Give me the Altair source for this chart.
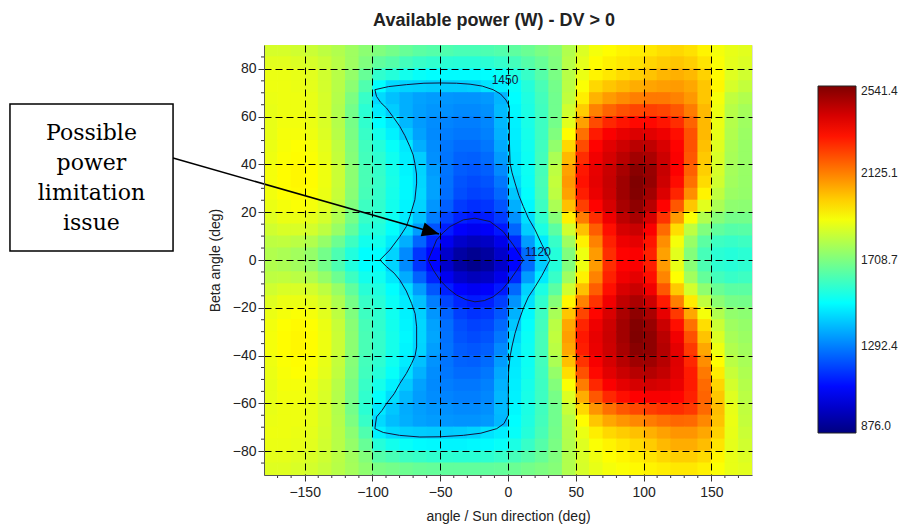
import altair as alt
import pandas as pd

TITLE = "Available power (W) - DV > 0"
X_TITLE = "angle / Sun direction (deg)"
Y_TITLE = "Beta angle (deg)"

# centres of the power-map cells: 10 deg wide in Sun angle, 5 deg tall in beta
sun_angle = [-175, -165, -155, -145, -135, -125, -115, -105, -95, -85, -75, -65,
             -55, -45, -35, -25, -15, -5, 5, 15, 25, 35, 45, 55,
             65, 75, 85, 95, 105, 115, 125, 135, 145, 155, 165, 175]
beta_angle = [87.5, 82.5, 77.5, 72.5, 67.5, 62.5, 57.5, 52.5, 47.5, 42.5, 37.5, 32.5,
              27.5, 22.5, 17.5, 12.5, 7.5, 2.5, -2.5, -7.5, -12.5, -17.5, -22.5, -27.5,
              -32.5, -37.5, -42.5, -47.5, -52.5, -57.5, -62.5, -67.5, -72.5, -77.5, -82.5, -87.5]

# available power (W), one row per beta angle (top to bottom), one column per Sun angle
power_w = [
    [1850, 1850, 1840, 1830, 1810, 1790, 1760, 1730, 1710, 1690, 1670, 1650, 1640, 1630, 1620, 1620, 1625, 1635, 1655, 1675, 1700, 1720, 1790, 1860, 1900, 1920, 1935, 1945, 1955, 1970, 1980, 1965, 1935, 1900, 1880, 1870],
    [1870, 1870, 1860, 1850, 1830, 1800, 1760, 1710, 1660, 1640, 1610, 1590, 1580, 1570, 1565, 1565, 1570, 1585, 1610, 1640, 1670, 1710, 1800, 1875, 1920, 1940, 1955, 1965, 1985, 2000, 2010, 1995, 1960, 1910, 1875, 1860],
    [1885, 1885, 1880, 1870, 1840, 1800, 1745, 1670, 1580, 1560, 1530, 1510, 1500, 1495, 1495, 1495, 1500, 1515, 1550, 1590, 1640, 1700, 1800, 1885, 1935, 1955, 1975, 1995, 2015, 2035, 2045, 2030, 1990, 1925, 1865, 1840],
    [1890, 1890, 1885, 1875, 1845, 1800, 1730, 1630, 1500, 1440, 1430, 1425, 1420, 1420, 1420, 1425, 1455, 1475, 1510, 1560, 1620, 1690, 1805, 1910, 1980, 2010, 2030, 2050, 2065, 2075, 2080, 2060, 2010, 1930, 1850, 1820],
    [1885, 1890, 1890, 1880, 1850, 1795, 1705, 1590, 1440, 1400, 1370, 1350, 1340, 1330, 1325, 1325, 1335, 1380, 1500, 1550, 1610, 1685, 1815, 1945, 2040, 2080, 2105, 2125, 2135, 2135, 2120, 2085, 2010, 1900, 1815, 1790],
    [1880, 1890, 1890, 1880, 1850, 1790, 1690, 1570, 1470, 1420, 1370, 1345, 1330, 1320, 1310, 1310, 1320, 1390, 1490, 1545, 1605, 1685, 1840, 2000, 2120, 2170, 2200, 2220, 2230, 2220, 2190, 2130, 2030, 1890, 1800, 1770],
    [1880, 1895, 1895, 1885, 1855, 1795, 1695, 1580, 1500, 1460, 1385, 1340, 1315, 1300, 1290, 1290, 1305, 1385, 1480, 1540, 1600, 1690, 1870, 2070, 2210, 2270, 2300, 2320, 2320, 2300, 2260, 2170, 2030, 1885, 1795, 1760],
    [1880, 1900, 1900, 1890, 1860, 1800, 1700, 1590, 1530, 1480, 1420, 1350, 1310, 1290, 1280, 1280, 1295, 1375, 1475, 1535, 1600, 1710, 1920, 2150, 2290, 2340, 2370, 2390, 2380, 2360, 2310, 2200, 2030, 1880, 1790, 1755],
    [1885, 1905, 1915, 1905, 1875, 1815, 1715, 1605, 1560, 1510, 1465, 1370, 1315, 1280, 1260, 1260, 1280, 1360, 1470, 1525, 1605, 1740, 1980, 2210, 2330, 2380, 2415, 2445, 2435, 2395, 2330, 2200, 2020, 1865, 1780, 1750],
    [1890, 1910, 1920, 1910, 1880, 1820, 1720, 1610, 1575, 1525, 1475, 1420, 1320, 1275, 1245, 1240, 1260, 1340, 1465, 1520, 1610, 1780, 2030, 2260, 2355, 2400, 2445, 2485, 2470, 2415, 2340, 2190, 2005, 1855, 1775, 1750],
    [1900, 1920, 1930, 1920, 1890, 1830, 1730, 1620, 1585, 1535, 1485, 1430, 1340, 1275, 1235, 1225, 1240, 1310, 1460, 1520, 1615, 1810, 2070, 2295, 2370, 2420, 2475, 2525, 2500, 2425, 2335, 2175, 1995, 1850, 1770, 1750],
    [1900, 1920, 1930, 1920, 1890, 1830, 1730, 1620, 1590, 1540, 1490, 1435, 1350, 1270, 1220, 1205, 1220, 1280, 1445, 1515, 1620, 1820, 2085, 2305, 2375, 2425, 2490, 2540, 2505, 2415, 2315, 2150, 1975, 1840, 1765, 1748],
    [1895, 1915, 1925, 1915, 1885, 1825, 1725, 1615, 1585, 1535, 1490, 1440, 1350, 1265, 1210, 1190, 1200, 1255, 1410, 1505, 1615, 1810, 2070, 2285, 2365, 2420, 2490, 2535, 2485, 2390, 2275, 2100, 1935, 1815, 1755, 1745],
    [1885, 1900, 1910, 1900, 1870, 1810, 1710, 1600, 1580, 1530, 1485, 1430, 1330, 1240, 1180, 1160, 1170, 1220, 1370, 1490, 1600, 1780, 2020, 2230, 2330, 2400, 2475, 2515, 2450, 2330, 2190, 2010, 1870, 1780, 1735, 1730],
    [1865, 1885, 1885, 1875, 1845, 1785, 1695, 1590, 1570, 1520, 1470, 1400, 1290, 1190, 1140, 1120, 1130, 1180, 1320, 1450, 1580, 1720, 1940, 2130, 2260, 2360, 2440, 2475, 2400, 2250, 2080, 1910, 1790, 1720, 1690, 1690],
    [1840, 1855, 1855, 1845, 1810, 1750, 1660, 1565, 1555, 1505, 1440, 1340, 1220, 1130, 1080, 1060, 1075, 1120, 1250, 1420, 1545, 1650, 1840, 2020, 2180, 2310, 2400, 2420, 2340, 2160, 1970, 1810, 1710, 1660, 1640, 1645],
    [1810, 1815, 1805, 1790, 1745, 1680, 1600, 1530, 1530, 1470, 1370, 1250, 1140, 1060, 1000, 975, 990, 1050, 1150, 1340, 1470, 1590, 1760, 1940, 2120, 2280, 2360, 2375, 2300, 2100, 1900, 1750, 1650, 1600, 1590, 1600],
    [1790, 1780, 1765, 1745, 1690, 1625, 1555, 1500, 1500, 1430, 1310, 1170, 1090, 1000, 935, 905, 930, 1000, 1090, 1260, 1420, 1560, 1710, 1890, 2080, 2260, 2330, 2340, 2280, 2070, 1870, 1715, 1615, 1570, 1560, 1570],
    [1790, 1780, 1765, 1745, 1690, 1625, 1555, 1500, 1500, 1430, 1310, 1170, 1090, 1000, 930, 900, 925, 1000, 1090, 1260, 1420, 1560, 1710, 1890, 2080, 2260, 2330, 2340, 2285, 2080, 1880, 1725, 1625, 1575, 1565, 1575],
    [1810, 1815, 1805, 1790, 1745, 1680, 1600, 1530, 1525, 1465, 1365, 1245, 1140, 1060, 1000, 975, 990, 1050, 1150, 1340, 1470, 1590, 1760, 1940, 2120, 2280, 2355, 2375, 2310, 2115, 1915, 1765, 1665, 1610, 1590, 1600],
    [1840, 1855, 1855, 1845, 1810, 1750, 1660, 1565, 1550, 1500, 1445, 1340, 1225, 1135, 1085, 1065, 1080, 1125, 1255, 1425, 1545, 1650, 1840, 2020, 2180, 2310, 2395, 2420, 2355, 2190, 2005, 1845, 1735, 1675, 1650, 1650],
    [1865, 1885, 1885, 1875, 1845, 1785, 1695, 1590, 1565, 1515, 1470, 1400, 1290, 1195, 1145, 1125, 1135, 1185, 1325, 1455, 1580, 1720, 1930, 2120, 2250, 2355, 2435, 2470, 2415, 2290, 2125, 1950, 1815, 1730, 1695, 1690],
    [1885, 1900, 1910, 1900, 1870, 1810, 1710, 1600, 1575, 1525, 1480, 1425, 1330, 1245, 1185, 1165, 1175, 1225, 1375, 1490, 1600, 1775, 2010, 2220, 2325, 2395, 2470, 2515, 2470, 2370, 2240, 2060, 1900, 1790, 1740, 1730],
    [1895, 1915, 1925, 1915, 1885, 1825, 1725, 1615, 1580, 1530, 1485, 1435, 1350, 1265, 1210, 1190, 1200, 1255, 1410, 1505, 1610, 1805, 2060, 2275, 2360, 2415, 2485, 2535, 2500, 2420, 2310, 2150, 1970, 1830, 1760, 1745],
    [1900, 1920, 1930, 1920, 1890, 1830, 1730, 1620, 1585, 1535, 1490, 1435, 1355, 1270, 1220, 1205, 1220, 1280, 1440, 1515, 1615, 1815, 2075, 2295, 2370, 2420, 2485, 2540, 2515, 2445, 2355, 2200, 2015, 1860, 1775, 1755],
    [1900, 1920, 1930, 1920, 1890, 1830, 1730, 1620, 1585, 1535, 1485, 1430, 1345, 1275, 1235, 1225, 1240, 1310, 1460, 1520, 1615, 1805, 2060, 2285, 2365, 2415, 2475, 2525, 2515, 2455, 2375, 2240, 2060, 1890, 1790, 1765],
    [1890, 1910, 1920, 1910, 1880, 1820, 1720, 1610, 1575, 1525, 1470, 1400, 1325, 1275, 1245, 1240, 1260, 1340, 1465, 1520, 1610, 1780, 2020, 2250, 2345, 2400, 2450, 2490, 2490, 2450, 2385, 2270, 2100, 1920, 1805, 1775],
    [1885, 1905, 1915, 1905, 1875, 1815, 1715, 1605, 1560, 1510, 1450, 1375, 1315, 1280, 1260, 1260, 1280, 1360, 1470, 1525, 1605, 1745, 1970, 2200, 2320, 2380, 2420, 2450, 2455, 2430, 2380, 2290, 2135, 1950, 1825, 1785],
    [1880, 1900, 1900, 1890, 1860, 1800, 1700, 1590, 1535, 1480, 1415, 1350, 1310, 1290, 1280, 1280, 1295, 1375, 1475, 1535, 1600, 1715, 1910, 2130, 2270, 2340, 2375, 2400, 2405, 2395, 2365, 2290, 2160, 1985, 1845, 1795],
    [1880, 1895, 1895, 1885, 1855, 1795, 1695, 1580, 1505, 1445, 1385, 1340, 1315, 1300, 1290, 1290, 1305, 1385, 1480, 1540, 1600, 1695, 1860, 2050, 2190, 2270, 2310, 2335, 2345, 2345, 2330, 2280, 2170, 2010, 1865, 1805],
    [1880, 1890, 1890, 1880, 1850, 1790, 1690, 1570, 1465, 1410, 1365, 1345, 1330, 1320, 1310, 1310, 1320, 1390, 1490, 1545, 1605, 1685, 1825, 1980, 2090, 2150, 2190, 2215, 2235, 2250, 2260, 2240, 2160, 2025, 1880, 1815],
    [1885, 1890, 1890, 1880, 1850, 1795, 1705, 1590, 1440, 1395, 1370, 1350, 1340, 1330, 1325, 1325, 1335, 1385, 1500, 1550, 1610, 1685, 1800, 1920, 2010, 2060, 2090, 2110, 2130, 2150, 2165, 2160, 2110, 2015, 1885, 1820],
    [1890, 1890, 1885, 1875, 1845, 1800, 1730, 1630, 1480, 1440, 1425, 1420, 1415, 1415, 1420, 1430, 1455, 1475, 1510, 1560, 1620, 1690, 1795, 1885, 1945, 1980, 2000, 2020, 2045, 2070, 2090, 2090, 2060, 1990, 1880, 1830],
    [1885, 1885, 1880, 1870, 1840, 1800, 1745, 1670, 1560, 1530, 1510, 1495, 1490, 1485, 1485, 1490, 1495, 1510, 1545, 1590, 1640, 1700, 1790, 1865, 1910, 1935, 1955, 1975, 2000, 2030, 2050, 2050, 2025, 1960, 1875, 1840],
    [1875, 1875, 1865, 1855, 1835, 1805, 1765, 1715, 1640, 1620, 1600, 1590, 1580, 1575, 1570, 1570, 1575, 1590, 1615, 1640, 1670, 1710, 1790, 1855, 1890, 1915, 1930, 1945, 1960, 1980, 1995, 1995, 1975, 1930, 1880, 1860],
    [1865, 1865, 1855, 1845, 1825, 1800, 1770, 1735, 1700, 1690, 1680, 1670, 1665, 1660, 1660, 1660, 1660, 1665, 1675, 1690, 1705, 1720, 1790, 1850, 1880, 1900, 1910, 1925, 1935, 1945, 1955, 1955, 1940, 1910, 1880, 1870],
]
CELL_W, CELL_H = 10, 5

# iso-power contours (deg)
c1450_x = [-98.2, -88, -75, -62, -50, -38, -28, -19, -11, -5.5, -1.5, 1, 1, 1.5, 3, 5.2, 8, 11.3, 15, 20, 25, 31,
           25, 20, 15, 11.3, 8, 5.2, 3, 1.5, 0.5, 0.2, 0.2, -3, -8.3, -20, -33, -50, -65, -80, -92, -98.2,
           -97, -93, -89.6, -84, -79.8, -75, -71.1, -68.5, -67.4, -67.4, -68.5, -71.1, -75, -79.8, -84, -89.6, -94.5,
           -87.2, -79.8, -75, -72.4, -68.7, -67.4, -67.5, -68.7, -70, -72.4, -76, -79.8, -84.5, -89.6, -94, -97, -98.2]
c1450_y = [71.3, 72.6, 73.4, 74, 74.1, 74, 73.6, 72.8, 71.3, 69.5, 67, 64.3, 50.6, 40.5, 36.5, 32.2, 27, 22.4, 17.5, 12.6, 6.5, 0,
           -6.5, -11.2, -15.5, -20.3, -25.5, -30.7, -36, -40.5, -46, -51.7, -65, -68.5, -70.6, -72.5, -73.4, -74, -74.1, -73.4, -72.2, -70.6,
           -65.7, -63, -60.1, -56, -51.7, -47.5, -43.3, -40, -36.4, -28, -22.5, -18.2, -13, -8.4, -5.5, -2.8, 0,
           4.2, 9.8, 14, 18.2, 25.2, 32.2, 36, 40.5, 44, 47.5, 52, 55.9, 59.7, 63.6, 66, 68.5, 71.3]
c1120_x = [-58.9, -55.5, -52.7, -47.5, -42.8, -33, -24.4, -13.3, -3.5, 3.9, 11.3,
           6.5, 1.5, -4.5, -10.9, -17.5, -24.4, -31, -37.9, -44.5, -50.2, -55, -58.9]
c1120_y = [0, 4.5, 8.4, 11.6, 14, 16.8, 17.5, 16.1, 11.9, 6.3, 0,
           -4.3, -8.4, -12.5, -15.4, -17, -17.5, -16.6, -14.7, -11.8, -8.4, -4.3, 0]

contour_labels = ["1450", "1120"]
contour_label_x = [-2.2, 22.1]
contour_label_y = [75.2, 3.4]

# callout: box corners, text anchor and arrow ends in plot units
note_lines = ["Possible", "power", "limitation", "issue"]
note_box_x = [-367.4, -247.1]
note_box_y = [3.8, 65.3]
note_text_x = -307.3
note_text_y = 50.2
arrow_tail = (-247.1, 42.7)
arrow_tip = (-50.9, 10.9)

# colour bar
P_MIN, P_MAX = 876.0, 2541.4
bar_ticks = [876.0, 1292.4, 1708.7, 2125.1, 2541.4]
jet = ["#00007f", "#0000ff", "#007fff", "#00ffff", "#7fff7f",
       "#ffff00", "#ff7f00", "#ff0000", "#7f0000"]
jet_stops = [P_MIN + i * (P_MAX - P_MIN) / (len(jet) - 1) for i in range(len(jet))]

x_major = [-150, -100, -50, 0, 50, 100, 150]
y_major = [-80, -60, -40, -20, 0, 20, 40, 60, 80]
x_minor = [v for v in range(-170, 180, 10) if v % 50 != 0]
y_minor = [v for v in range(-85, 90, 5) if v % 20 != 0]

W, H = 488, 430
FONT = "Liberation Sans"

# cells overlap their neighbours slightly so no hairline seams show between them
OVER = 0.25
cells = pd.DataFrame([
    {"s0": s - CELL_W / 2 - OVER, "s1": s + CELL_W / 2 + OVER,
     "b0": b - CELL_H / 2 - OVER, "b1": b + CELL_H / 2 + OVER, "power": p}
    for b, row in zip(beta_angle, power_w)
    for s, p in zip(sun_angle, row)
])

lines = pd.concat([
    pd.DataFrame({"x": c1450_x, "y": c1450_y, "level": "1450", "i": range(len(c1450_x))}),
    pd.DataFrame({"x": c1120_x, "y": c1120_y, "level": "1120", "i": range(len(c1120_x))}),
])

xs = alt.Scale(domain=[-180, 180], nice=False, zero=False)
ys = alt.Scale(domain=[-90, 90], nice=False, zero=False)
cs = alt.Scale(domain=jet_stops, range=jet, interpolate="rgb")

grid_style = dict(grid=True, gridColor="#000000", gridDash=[7, 4], gridWidth=1, gridOpacity=1,
                  tickColor="#333333", tickSize=6, domainColor="#555555", zindex=1,
                  labelFont=FONT, labelFontSize=14, labelColor="#222222",
                  titleFont=FONT, titleFontSize=14, titleFontWeight="normal", titleColor="#222222")

x_axis = alt.Axis(values=x_major, labelPadding=4, titlePadding=10, **grid_style)
y_axis = alt.Axis(values=y_major, labelPadding=2, titlePadding=10, **grid_style)

heat = alt.Chart(cells).mark_rect(clip=True).encode(
    x=alt.X("s0:Q", scale=xs, axis=x_axis, title=X_TITLE),
    x2="s1:Q",
    y=alt.Y("b0:Q", scale=ys, axis=y_axis, title=Y_TITLE),
    y2="b1:Q",
    color=alt.Color("power:Q", scale=cs, title=None,
                    legend=alt.Legend(type="gradient", orient="none", legendX=554, legendY=41,
                                      direction="vertical",
                                      gradientLength=347, gradientThickness=38,
                                      gradientStrokeColor="#222222", gradientStrokeWidth=1,
                                      values=bar_ticks, labelExpr="format(datum.value, '.1f')",
                                      labelFont=FONT, labelFontSize=12, labelColor="#222222",
                                      labelOffset=5, padding=0)),
)

contours = alt.Chart(lines).mark_line(color="#14143c", strokeWidth=1).encode(
    x=alt.X("x:Q", scale=xs),
    y=alt.Y("y:Q", scale=ys),
    detail="level:N",
    order=alt.Order("i:Q"),
)

labels = alt.Chart(pd.DataFrame({"t": contour_labels, "x": contour_label_x, "y": contour_label_y})).mark_text(
    font=FONT, fontSize=12, color="#14143c"
).encode(x=alt.X("x:Q", scale=xs), y=alt.Y("y:Q", scale=ys), text="t:N")

x_ticks = alt.Chart(pd.DataFrame({"v": x_minor})).mark_rule(color="#333333").encode(
    x=alt.X("v:Q", scale=xs), y=alt.value(H), y2=alt.value(H + 3))
y_ticks = alt.Chart(pd.DataFrame({"v": y_minor})).mark_rule(color="#333333").encode(
    y=alt.Y("v:Q", scale=ys), x=alt.value(0), x2=alt.value(-3))

box = alt.Chart(pd.DataFrame({"x0": [note_box_x[0]], "x1": [note_box_x[1]],
                              "y0": [note_box_y[0]], "y1": [note_box_y[1]]})).mark_rect(
    fill="white", stroke="black", strokeWidth=1.5, clip=False
).encode(x=alt.X("x0:Q", scale=xs), x2="x1:Q", y=alt.Y("y0:Q", scale=ys), y2="y1:Q")

note = alt.Chart(pd.DataFrame({"x": [note_text_x], "y": [note_text_y], "t": ["\n".join(note_lines)]})).mark_text(
    font="DejaVu Serif", fontSize=22, lineHeight=30, lineBreak="\n", align="center",
    baseline="alphabetic", color="black"
).encode(x=alt.X("x:Q", scale=xs), y=alt.Y("y:Q", scale=ys), text="t:N")

arrow = pd.DataFrame({"x": [arrow_tail[0]], "y": [arrow_tail[1]],
                      "x2": [arrow_tip[0]], "y2": [arrow_tip[1]]})
shaft = alt.Chart(arrow).mark_rule(color="black", strokeWidth=1.5).encode(
    x=alt.X("x:Q", scale=xs), y=alt.Y("y:Q", scale=ys), x2="x2:Q", y2="y2:Q")
head = alt.Chart(arrow).mark_point(
    shape="M0,0L-1,-0.42L-1,0.42Z", filled=True, color="black", opacity=1, size=1156, angle=16
).encode(x=alt.X("x2:Q", scale=xs), y=alt.Y("y2:Q", scale=ys))

chart = alt.layer(heat, contours, labels, x_ticks, y_ticks, shaft, head, box, note).properties(
    width=W, height=H,
    title=alt.TitleParams(TITLE, font=FONT, fontSize=18, fontWeight="bold", color="#222222",
                          anchor="middle", dx=-14, offset=15),
    autosize=alt.AutoSizeParams(type="none"),
    padding={"left": 264, "top": 45, "right": 907 - 264 - W, "bottom": 525 - 45 - H},
).configure_view(stroke="#555555", strokeWidth=1).configure(background="white")

chart.save("out.html", embed_options={"renderer": "svg", "actions": False})
